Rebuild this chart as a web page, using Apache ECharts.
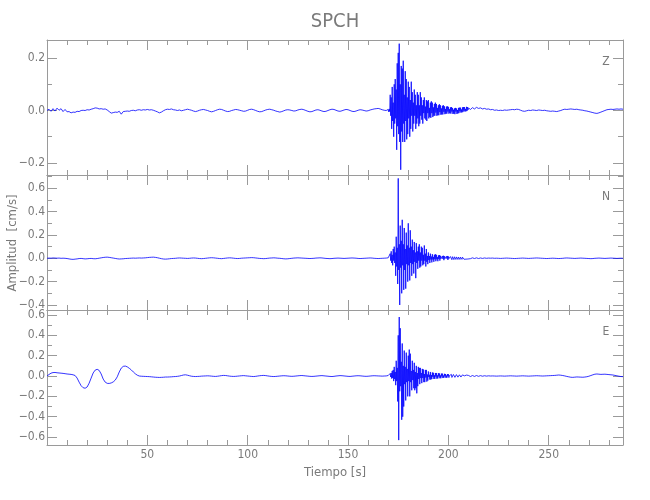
<!DOCTYPE html>
<html>
<head>
<meta charset="utf-8">
<script src="https://cdn.jsdelivr.net/npm/echarts@6/dist/echarts.min.js"></script>
<style>html,body{margin:0;padding:0;background:#fff}#c{width:650px;height:500px}</style>
</head>
<body>
<div id="c"></div>
<script>
// ---- sampling of the traces (s) ----
const quiet1Start = 0, quietStep = 1;
const burstStart = 170, burstStep = 0.25;
const quiet2Start = 210;
const xMin = 0, xMax = 287;

// ---- tick values ----
const xMajor = [50, 100, 150, 200, 250];
const xMinor = [10, 20, 30, 40, 60, 70, 80, 90, 110, 120, 130, 140, 160, 170, 180, 190, 210, 220, 230, 240, 260, 270, 280];
const zRange = [-0.246, 0.269];
const nRange = [-0.443, 0.714];
const eRange = [-0.678, 0.649];
const zMajor = [-0.2, 0, 0.2];
const zMinor = [-0.1, 0.1];
const nMajor = [-0.4, -0.2, 0, 0.2, 0.4, 0.6];
const nMinor = [-0.3, -0.1, 0.1, 0.3, 0.5, 0.7];
const eMajor = [-0.6, -0.4, -0.2, 0, 0.2, 0.4, 0.6];
const eMinor = [-0.5, -0.3, -0.1, 0.1, 0.3, 0.5];
const componentNames = ['Z', 'N', 'E'];

// ---- Z component (cm/s) ----
const zQuiet1 = [
 0.000, 0.005,-0.003, 0.007,-0.002, 0.009, 0.001, 0.007,-0.004, 0.004,
-0.005,-0.004,-0.009,-0.006,-0.007,-0.003,-0.004, 0.000, 0.001, 0.000,
 0.003, 0.002, 0.005, 0.007, 0.010, 0.009, 0.006, 0.007, 0.005, 0.006,
 0.002,-0.004,-0.010,-0.008,-0.006,-0.007,-0.003,-0.014,-0.004,-0.003,
-0.002,-0.003, 0.000, 0.001,-0.001, 0.002, 0.003, 0.001, 0.003, 0.002,
 0.004, 0.002, 0.003, 0.001,-0.002,-0.005,-0.009,-0.006,-0.001, 0.003,
 0.005, 0.004, 0.006, 0.003, 0.002, 0.000, 0.002,-0.001, 0.001, 0.003,
 0.005, 0.003, 0.001,-0.002,-0.004,-0.002, 0.001, 0.003, 0.004, 0.002,
 0.000,-0.003,-0.005,-0.003, 0.000, 0.003, 0.005, 0.004, 0.001,-0.002,
-0.004,-0.003, 0.000, 0.002, 0.004, 0.003, 0.001,-0.001,-0.003,-0.002,
 0.001, 0.004, 0.005, 0.003, 0.000,-0.003,-0.005,-0.004,-0.001, 0.002,
 0.004, 0.005, 0.003, 0.001,-0.002,-0.004,-0.006,-0.004,-0.001, 0.002,
 0.003, 0.002, 0.000,-0.002,-0.001, 0.002, 0.004, 0.005, 0.003, 0.000,
-0.003,-0.005,-0.004,-0.001, 0.002, 0.003, 0.001,-0.002,-0.004,-0.003,
 0.000, 0.003, 0.005, 0.004, 0.001,-0.002,-0.003,-0.001, 0.002, 0.004,
 0.003, 0.000,-0.003,-0.004,-0.002, 0.001, 0.003, 0.002, 0.000,-0.002,
-0.001, 0.002, 0.004, 0.006, 0.007, 0.008, 0.006, 0.003, 0.001, 0.000
];
const zBurst = [
 0.004,-0.005, 0.006,-0.004,  0.06,-0.02, 0.05,-0.07,  0.09,-0.04, 0.03,-0.10,  0.10,-0.05, 0.12,-0.03,
 0.08,-0.15, 0.18,-0.06,  0.22,-0.09, 0.255,-0.12,  0.10,-0.226, 0.17,-0.08,  0.16,-0.12, 0.19,-0.05,
 0.06,-0.12, 0.15,-0.04,  0.12,-0.11, 0.05,-0.09,  0.11,-0.03, 0.09,-0.10,  0.04,-0.07, 0.11,-0.02,
 0.07,-0.08, 0.03,-0.05,  0.08,-0.02, 0.06,-0.07,  0.02,-0.05, 0.07,-0.03,  0.06,-0.06, 0.02,-0.05,
 0.07,-0.02, 0.05,-0.035, 0.02,-0.05, 0.04,-0.01,  0.05,-0.03, 0.015,-0.035, 0.04,-0.04, 0.035,-0.01,
 0.04,-0.03, 0.01,-0.025, 0.03,-0.028, 0.035,-0.01, 0.03,-0.025, 0.012,-0.02, 0.025,-0.02, 0.03,-0.008,
 0.025,-0.02, 0.01,-0.018, 0.02,-0.018, 0.024,-0.006, 0.02,-0.016, 0.008,-0.015, 0.018,-0.015, 0.02,-0.005,
 0.016,-0.014, 0.006,-0.012, 0.015,-0.012, 0.016,-0.004, 0.014,-0.012, 0.005,-0.01, 0.012,-0.012, 0.013,-0.004,
 0.01,-0.013, 0.003,-0.012, 0.008,-0.014, 0.01,-0.004, 0.008,-0.013, 0.002,-0.011, 0.01,-0.01, 0.011,-0.003,
 0.011,-0.008, 0.004,-0.007, 0.012,-0.006, 0.013,-0.001, 0.013,-0.004, 0.006,-0.003, 0.014,-0.002, 0.013, 0.002
];
const zQuiet2 = [
 0.010, 0.004, 0.011, 0.006, 0.012, 0.008, 0.010, 0.006, 0.008, 0.005,
 0.006, 0.003, 0.004, 0.001, 0.002, 0.000, 0.001, 0.000, 0.002, 0.001,
 0.002, 0.003, 0.004, 0.003, 0.005, 0.004, 0.001,-0.002,-0.003,-0.001,
 0.001, 0.000, 0.002, 0.001, 0.000, 0.002, 0.001, 0.000, 0.001,-0.001,
-0.002,-0.003,-0.002,-0.003,-0.004,-0.002, 0.000, 0.003, 0.005, 0.004,
 0.005, 0.006, 0.005, 0.004, 0.005, 0.003, 0.002, 0.001,-0.001,-0.002,
-0.004,-0.006,-0.008,-0.010,-0.011,-0.009,-0.006,-0.003, 0.000, 0.003,
 0.004, 0.005, 0.004, 0.005, 0.006, 0.005, 0.006, 0.005
];

// ---- N component (cm/s) ----
const nQuiet1 = [
 0.000, 0.002, 0.001, 0.003, 0.002, 0.001, 0.002, 0.000, 0.001, 0.000,
-0.002,-0.005,-0.008,-0.009,-0.007,-0.005,-0.002,-0.001,-0.003,-0.005,
-0.004,-0.002,-0.001,-0.003,-0.004,-0.002, 0.001, 0.004, 0.007, 0.009,
 0.010, 0.008, 0.005, 0.002,-0.001,-0.004,-0.006,-0.005,-0.004,-0.002,
-0.001, 0.000, 0.001, 0.002, 0.001, 0.002, 0.003, 0.002, 0.003, 0.004,
 0.006, 0.008, 0.009, 0.010, 0.008, 0.005, 0.001,-0.003,-0.006,-0.007,
-0.006,-0.004,-0.002,-0.001, 0.000, 0.002, 0.003, 0.002, 0.001, 0.000,
-0.001, 0.000, 0.002, 0.003, 0.002, 0.000,-0.002,-0.003,-0.002, 0.000,
 0.002, 0.004, 0.005, 0.004, 0.002, 0.000,-0.002,-0.003,-0.001, 0.001,
 0.003, 0.004, 0.003, 0.001,-0.001,-0.002,-0.001, 0.001, 0.002, 0.003,
 0.004, 0.005, 0.006, 0.005, 0.003, 0.001,-0.001,-0.002,-0.003,-0.002,
 0.000, 0.002, 0.003, 0.004, 0.003, 0.001, 0.000,-0.002,-0.004,-0.005,
-0.004,-0.002, 0.000, 0.002, 0.003, 0.004, 0.003, 0.002, 0.001, 0.000,
-0.001,-0.002,-0.001, 0.000, 0.002, 0.003, 0.004, 0.003, 0.001,-0.001,
-0.002,-0.003,-0.002, 0.000, 0.001, 0.002, 0.001, 0.000,-0.001, 0.000,
 0.001, 0.002, 0.003, 0.002, 0.001,-0.001,-0.002,-0.001, 0.000, 0.001,
 0.002, 0.003, 0.002, 0.000,-0.001,-0.002,-0.001, 0.000, 0.001, 0.002
];
const nBurst = [
 0.004,-0.005, 0.01,-0.012,  0.04,-0.02, 0.06,-0.04,  0.03,-0.06, 0.08,-0.02,  0.10,-0.04, 0.05,-0.15,
 0.185,-0.07, 0.09,-0.22,  0.685,-0.10, 0.12,-0.40,  0.28,-0.08, 0.15,-0.30,  0.33,-0.06, 0.12,-0.27,
 0.26,-0.10, 0.08,-0.26,  0.22,-0.05, 0.11,-0.20,  0.30,-0.06, 0.09,-0.19,  0.24,-0.04, 0.10,-0.15,
 0.16,-0.05, 0.07,-0.13,  0.14,-0.03, 0.05,-0.17,  0.13,-0.04, 0.06,-0.09,  0.10,-0.02, 0.12,-0.08,
 0.05,-0.07, 0.10,-0.02,  0.09,-0.06, 0.03,-0.05,  0.11,-0.02, 0.04,-0.07,  0.08,-0.03, 0.02,-0.05,
 0.05,-0.015, 0.02,-0.04, 0.04,-0.01, 0.015,-0.035, 0.035,-0.01, 0.012,-0.03, 0.03,-0.008, 0.035,-0.025,
 0.03,-0.008, 0.01,-0.025, 0.025,-0.006, 0.028,-0.02, 0.022,-0.005, 0.008,-0.018, 0.02,-0.005, 0.022,-0.016,
 0.018,-0.004, 0.006,-0.015, 0.017,-0.003, 0.02,-0.014, 0.016,-0.003, 0.005,-0.013, 0.015,-0.002, 0.018,-0.012,
 0.014,-0.002, 0.004,-0.011, 0.013,-0.002, 0.016,-0.01, 0.012,-0.001, 0.004,-0.01, 0.011,-0.001, 0.015,-0.01,
 0.01,-0.001, 0.003,-0.009, 0.01,-0.001, 0.012,-0.008, 0.009, 0.000, 0.003,-0.007, 0.008, 0.000, 0.010,-0.006
];
const nQuiet2 = [
 0.005,-0.003, 0.004,-0.002, 0.004,-0.002, 0.003,-0.001, 0.003, 0.000,
 0.002, 0.001, 0.002, 0.000, 0.001, 0.000,-0.001, 0.000, 0.001, 0.002,
 0.001, 0.000,-0.001,-0.002,-0.001, 0.000, 0.001, 0.002, 0.001, 0.000,
-0.001, 0.000, 0.001, 0.002, 0.003, 0.002, 0.001, 0.000,-0.001,-0.002,
-0.001, 0.000, 0.001, 0.000,-0.001,-0.002,-0.001, 0.000, 0.002, 0.003,
 0.002, 0.001, 0.000,-0.001, 0.000, 0.001, 0.002, 0.001, 0.000,-0.001,
-0.002,-0.003,-0.002, 0.000, 0.001, 0.002, 0.001, 0.000,-0.001, 0.000,
 0.001, 0.002, 0.001, 0.000,-0.001, 0.000, 0.001, 0.000
];

// ---- E component (cm/s) ----
const eQuiet1 = [
 0.000, 0.015, 0.028, 0.034, 0.035, 0.032, 0.030, 0.028, 0.026, 0.023,
 0.020, 0.018, 0.016, 0.012, 0.005,-0.020,-0.060,-0.095,-0.115,-0.120,
-0.108,-0.070,-0.020, 0.030, 0.058, 0.066, 0.055, 0.020,-0.030,-0.060,
-0.072,-0.073,-0.068,-0.058,-0.040,-0.008, 0.040, 0.078, 0.095, 0.098,
 0.090, 0.076, 0.060, 0.040, 0.022, 0.008, 0.000,-0.002,-0.003,-0.004,
-0.005,-0.006,-0.008,-0.010,-0.012,-0.013,-0.014,-0.013,-0.012,-0.010,
-0.010,-0.009,-0.008,-0.006,-0.005,-0.003, 0.000, 0.005, 0.010, 0.012,
 0.008, 0.003,-0.002,-0.004,-0.005,-0.004,-0.003,-0.001, 0.000, 0.001,
 0.002, 0.001,-0.001,-0.003,-0.004,-0.002, 0.001, 0.004, 0.006, 0.005,
 0.002,-0.001,-0.003,-0.004,-0.003,-0.001, 0.001, 0.003, 0.004, 0.002,
 0.000,-0.002,-0.004,-0.005,-0.003, 0.000, 0.003, 0.005, 0.006, 0.004,
 0.001,-0.002,-0.004,-0.005,-0.004,-0.002, 0.000, 0.002, 0.003, 0.002,
 0.000,-0.002,-0.003,-0.002, 0.000, 0.002, 0.004, 0.005, 0.003, 0.001,
-0.001,-0.003,-0.004,-0.003,-0.001, 0.001, 0.003, 0.004, 0.002, 0.000,
-0.002,-0.004,-0.005,-0.003, 0.000, 0.002, 0.004, 0.003, 0.001,-0.001,
-0.003,-0.004,-0.002, 0.000, 0.002, 0.003, 0.002, 0.000,-0.002,-0.003,
-0.002, 0.000, 0.002, 0.003, 0.002, 0.001, 0.000,-0.001, 0.000, 0.001
];
const eBurst = [
 0.005,-0.006, 0.01,-0.012,  0.025,-0.01, 0.03,-0.025,  0.05,-0.02, 0.06,-0.05,  0.09,-0.03, 0.04,-0.09,
 0.15,-0.05, 0.08,-0.25,  0.40,-0.63, 0.58,-0.15,  0.47,-0.10, 0.14,-0.43,  0.32,-0.40, 0.10,-0.30,
 0.25,-0.08, 0.09,-0.24,  0.23,-0.06, 0.07,-0.20,  0.20,-0.05, 0.26,-0.20,  0.22,-0.06, 0.05,-0.14,
 0.15,-0.04, 0.06,-0.12,  0.13,-0.14, 0.04,-0.12,  0.10,-0.17, 0.03,-0.10,  0.09,-0.03, 0.08,-0.08,
 0.08,-0.02, 0.03,-0.07,  0.07,-0.02, 0.065,-0.06, 0.02,-0.06, 0.06,-0.015, 0.06,-0.055, 0.015,-0.045,
 0.045,-0.01, 0.012,-0.035, 0.04,-0.035, 0.01,-0.03, 0.035,-0.008, 0.032,-0.028, 0.008,-0.028, 0.03,-0.006,
 0.03,-0.026, 0.007,-0.024, 0.028,-0.005, 0.026,-0.022, 0.006,-0.022, 0.024,-0.004, 0.024,-0.02, 0.005,-0.018,
 0.022,-0.004, 0.02,-0.017, 0.005,-0.017, 0.019,-0.003, 0.018,-0.016, 0.004,-0.015, 0.017,-0.003, 0.016,-0.014,
 0.004,-0.014, 0.015,-0.003, 0.015,-0.013, 0.003,-0.012, 0.014,-0.002, 0.013,-0.011, 0.003,-0.011, 0.012,-0.002,
 0.012,-0.01, 0.002,-0.009, 0.011,-0.002, 0.01,-0.008, 0.002,-0.008, 0.009,-0.001, 0.009,-0.007, 0.001,-0.007
];
const eQuiet2 = [
 0.006,-0.005, 0.005,-0.004, 0.005,-0.003, 0.004,-0.002, 0.003,-0.001,
 0.002, 0.000, 0.001, 0.000,-0.001, 0.000, 0.001, 0.000,-0.001, 0.000,
 0.001, 0.002, 0.001, 0.000,-0.001, 0.000, 0.001, 0.002, 0.001, 0.000,
-0.001, 0.000, 0.001, 0.002, 0.003, 0.002, 0.001, 0.000, 0.001, 0.002,
 0.003, 0.004, 0.005, 0.006, 0.008, 0.010, 0.008, 0.005, 0.001,-0.004,
-0.008,-0.012,-0.013,-0.011,-0.009,-0.010,-0.011,-0.012,-0.010,-0.007,
-0.002, 0.005, 0.012, 0.018, 0.020, 0.018, 0.016, 0.017, 0.018, 0.016,
 0.014, 0.012, 0.010, 0.006, 0.002,-0.002,-0.005,-0.006
];

function trace(q1, b, q2) {
  const out = [];
  q1.forEach((v, i) => out.push([quiet1Start + i * quietStep, v]));
  b.forEach((v, i) => out.push([burstStart + i * burstStep, v]));
  q2.forEach((v, i) => out.push([quiet2Start + i * quietStep, v]));
  return out;
}

const traces = [trace(zQuiet1, zBurst, zQuiet2), trace(nQuiet1, nBurst, nQuiet2), trace(eQuiet1, eBurst, eQuiet2)];
const ranges = [zRange, nRange, eRange];
const majors = [zMajor, nMajor, eMajor];
const minors = [zMinor, nMinor, eMinor];

const FONT = "'Liberation Sans Narrow', 'DejaVu Sans Condensed', 'Roboto', sans-serif";
const AX = '#9a9a9a';
const TXT = '#7a7a7a';
const tops = [40, 175, 310];
const H = 135;

const grid = [], xAxis = [], yAxis = [], series = [];
const fmt = v => (v < 0 ? '\u2212' : '') + Math.abs(v).toFixed(1);

for (let i = 0; i < 3; i++) {
  grid.push({ left: 47, right: 27, top: tops[i], height: H, containLabel: false });
  const xBase = { gridIndex: i, type: 'value', min: xMin, max: xMax, splitLine: { show: false } };
  const lineOn = { show: true, onZero: false, lineStyle: { color: AX, width: 1 } };
  const lineOff = { show: false, onZero: false };
  const xi = xAxis.length;
  xAxis.push(Object.assign({}, xBase, {
    position: 'bottom', axisLine: lineOn,
    axisTick: { show: true, inside: true, length: 10, customValues: xMajor, lineStyle: { color: AX } },
    axisLabel: { show: i === 2, customValues: xMajor, margin: 4, color: TXT, fontSize: 12, fontFamily: FONT }
  }));
  xAxis.push(Object.assign({}, xBase, {
    position: 'bottom', axisLine: lineOff,
    axisTick: { show: true, inside: true, length: 5, customValues: xMinor, lineStyle: { color: AX } },
    axisLabel: { show: false }
  }));
  xAxis.push(Object.assign({}, xBase, {
    position: 'top', axisLine: lineOn,
    axisTick: { show: true, inside: true, length: 10, customValues: xMajor, lineStyle: { color: AX } },
    axisLabel: { show: false }
  }));
  xAxis.push(Object.assign({}, xBase, {
    position: 'top', axisLine: lineOff,
    axisTick: { show: true, inside: true, length: 5, customValues: xMinor, lineStyle: { color: AX } },
    axisLabel: { show: false }
  }));

  const yBase = { gridIndex: i, type: 'value', min: ranges[i][0], max: ranges[i][1], splitLine: { show: false } };
  const yi = yAxis.length;
  yAxis.push(Object.assign({}, yBase, {
    position: 'left', axisLine: lineOn,
    axisTick: { show: true, inside: true, length: 10, customValues: majors[i], lineStyle: { color: AX } },
    axisLabel: { show: true, customValues: majors[i], formatter: fmt, margin: 2, color: TXT, fontSize: 12, fontFamily: FONT }
  }));
  yAxis.push(Object.assign({}, yBase, {
    position: 'left', axisLine: lineOff,
    axisTick: { show: true, inside: true, length: 5, customValues: minors[i], lineStyle: { color: AX } },
    axisLabel: { show: false }
  }));
  yAxis.push(Object.assign({}, yBase, {
    position: 'right', axisLine: lineOn,
    axisTick: { show: true, inside: true, length: 10, customValues: majors[i], lineStyle: { color: AX } },
    axisLabel: { show: false }
  }));
  yAxis.push(Object.assign({}, yBase, {
    position: 'right', axisLine: lineOff,
    axisTick: { show: true, inside: true, length: 5, customValues: minors[i], lineStyle: { color: AX } },
    axisLabel: { show: false }
  }));

  series.push({
    type: 'line', name: componentNames[i], xAxisIndex: xi, yAxisIndex: yi,
    data: traces[i], showSymbol: false, symbol: 'none', sampling: false,
    lineStyle: { color: '#0000ff', width: 0.8 }, clip: true, z: 1
  });
}

const graphic = [
  { type: 'text', x: 335, y: 22, style: { text: 'SPCH', fill: TXT, font: '20px ' + FONT, align: 'center', verticalAlign: 'middle' } },
  { type: 'text', x: 335, y: 473, style: { text: 'Tiempo [s]', fill: TXT, font: '13px ' + FONT, align: 'center', verticalAlign: 'middle' } },
  { type: 'text', x: 13, y: 243, rotation: Math.PI / 2, style: { text: 'Amplitud  [cm/s]', fill: TXT, font: '13px ' + FONT, align: 'center', verticalAlign: 'middle' } }
];
componentNames.forEach((n, i) => {
  graphic.push({ type: 'text', x: 606, y: tops[i] + 21.5, style: { text: n, fill: TXT, font: '12px ' + FONT, align: 'center', verticalAlign: 'middle' } });
});

const chart = echarts.init(document.getElementById('c'), null, { renderer: 'canvas' });
chart.setOption({
  animation: false,
  backgroundColor: '#ffffff',
  grid, xAxis, yAxis, series, graphic
});
</script>
</body>
</html>
